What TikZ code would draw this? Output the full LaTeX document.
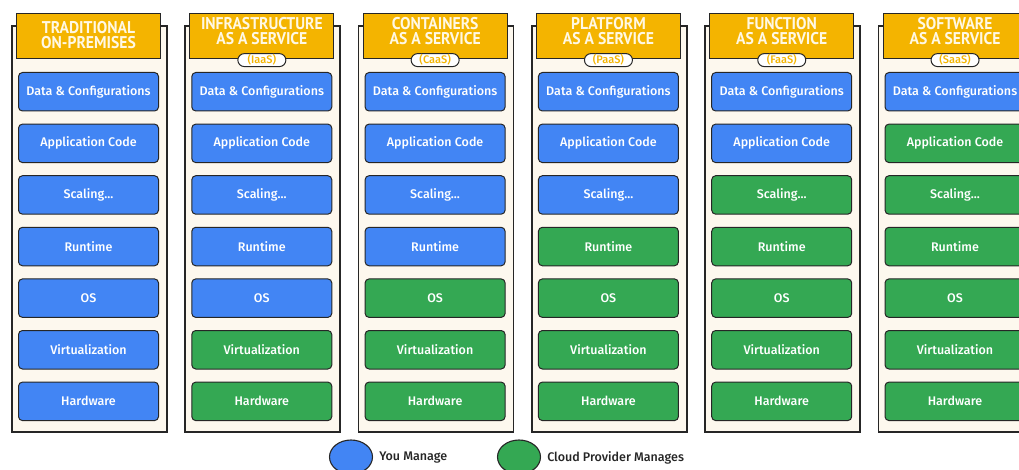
\documentclass[tikz,border=0pt]{standalone}
\usepackage{fontspec}
\setmainfont{Fira Sans}
\newfontfamily\lblfont{Fira Sans Medium}
\newfontfamily\hdrfont{PT Sans}[FakeStretch=0.92]
\usetikzlibrary{shapes.geometric}

\definecolor{hdrgold}{HTML}{F4B400}
\definecolor{hdrtext}{HTML}{FFF8E4}
\definecolor{boxblue}{HTML}{4285F4}
\definecolor{boxgreen}{HTML}{34A853}
\definecolor{cream}{HTML}{FDF8EE}
\definecolor{ink}{HTML}{262626}

\newcommand\scalinglabel{Scaling...}

\tikzset{
  colframe/.style={draw=ink, line width=1.6pt, fill=cream, rectangle,
    minimum width=155pt, minimum height=406pt, anchor=north west, inner sep=0pt},
  hdrbox/.style={draw=ink, line width=1.1pt, fill=hdrgold, rectangle,
    minimum width=144pt, minimum height=45pt, anchor=north west, inner sep=0pt},
  hdrtitle/.style={text=hdrtext, align=center, inner sep=0pt,
    font=\hdrfont\bfseries\fontsize{17}{15}\selectfont},
  abbrv/.style={draw=ink, line width=1pt, fill=white, rectangle, rounded corners=6.5pt,
    minimum width=48pt, minimum height=13pt, inner sep=0pt, text=hdrgold,
    font=\lblfont\fontsize{11}{11}\selectfont},
  layerbox/.style={draw=ink, line width=1pt, rectangle, rounded corners=4pt,
    minimum width=140pt, minimum height=38.5pt, anchor=north west, inner sep=0pt,
    text=white, font=\lblfont\fontsize{12.5}{14}\selectfont},
  keyblob/.style={draw=ink, line width=1.1pt, ellipse, minimum width=43pt,
    minimum height=34pt, inner sep=0pt},
  keytext/.style={anchor=west, text=ink, inner sep=0pt,
    font=\lblfont\fontsize{12.5}{14}\selectfont}
}

\begin{document}
\begin{tikzpicture}[x=1pt,y=-1pt]
\clip (0,0) rectangle (1019,470);
\fill[white] (0,0) rectangle (1019,470);

% one column per service model: frame, header, and seven stacked layers
\foreach \i/\title in {
  0/{TRADITIONAL\\ON-PREMISES},
  1/{INFRASTRUCTURE\\AS A SERVICE},
  2/{CONTAINERS\\AS A SERVICE},
  3/{PLATFORM\\AS A SERVICE},
  4/{FUNCTION\\AS A SERVICE},
  5/{SOFTWARE\\AS A SERVICE}} {
  \pgfmathsetmacro{\x}{11+173.3*\i}
  \node[colframe] (col\i) at (\x,25) {};
  \node[hdrbox] (hdr\i) at (\x+5,13) {};
  \ifnum\i=0
    \node[hdrtitle] (ttl\i) at ([yshift=0.5pt]hdr\i.center) {\title};
  \else
    \node[hdrtitle] (ttl\i) at ([yshift=4.5pt]hdr\i.center) {\title};
  \fi
  \foreach \r/\lab in {0/Data \& Configurations, 1/Application Code,
      2/\scalinglabel, 3/Runtime, 4/OS, 5/Virtualization, 6/Hardware} {
    \pgfmathsetmacro{\y}{72+51.6*\r}
    \def\fc{boxblue}
    \ifnum\i>0 \ifnum\r>\numexpr5-\i\relax \def\fc{boxgreen}\fi\fi
    \node[layerbox, fill=\fc] (c\i r\r) at (\x+7,\y) {\lab};
  }
}

% abbreviation tags sitting on the header edge
\foreach \i/\ab in {1/IaaS, 2/CaaS, 3/PaaS, 4/FaaS, 5/SaaS} {
  \node[abbrv] (ab\i) at ([yshift=-1pt]hdr\i.south) {(\ab)};
}

% key
\node[keyblob, fill=boxblue] (kyou) at (351,457) {};
\node[keytext] (kyoutxt) at ([xshift=6pt,yshift=-1pt]kyou.east) {You Manage};
\node[keyblob, fill=boxgreen] (kcloud) at (519,457) {};
\node[keytext] (kcloudtxt) at ([xshift=6pt,yshift=-1pt]kcloud.east) {Cloud Provider Manages};
\end{tikzpicture}
\end{document}
